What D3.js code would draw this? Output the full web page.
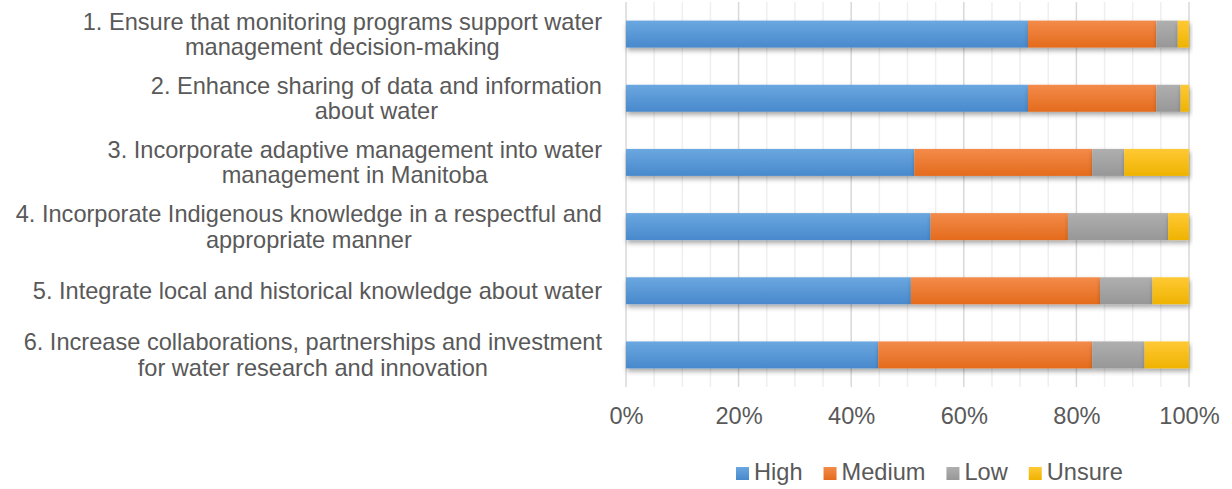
<!DOCTYPE html>
<html>
<head>
<meta charset="utf-8">
<script src="https://cdn.jsdelivr.net/npm/d3@7"></script>
<style>
  body { margin: 0; background: #fff; }
  text { font-family: "Liberation Sans", Arial, sans-serif; fill: #595959; }
</style>
</head>
<body>
<div id="chart"></div>
<script>
var width = 1232;
var height = 489;

// survey items, top to bottom (each label split into its lines)
var categories = [
  ["1. Ensure that monitoring programs support water", "management decision-making"],
  ["2. Enhance sharing of data and information", "about water"],
  ["3. Incorporate adaptive management into water", "management in Manitoba"],
  ["4. Incorporate Indigenous knowledge in a respectful and", "appropriate manner"],
  ["5. Integrate local and historical knowledge about water"],
  ["6. Increase collaborations, partnerships and investment", "for water research and innovation"]
];
var seriesNames = ["High", "Medium", "Low", "Unsure"];
// percent of responses
var high   = [71.4, 71.4, 51.2, 54.1, 50.6, 44.8];
var medium = [22.8, 22.8, 31.6, 24.4, 33.6, 38.0];
var low    = [3.8, 4.3, 5.7, 17.8, 9.3, 9.3];
var unsure = [2.0, 1.5, 11.5, 3.7, 6.5, 7.9];
var tickValues = [0, 0.2, 0.4, 0.6, 0.8, 1];

var colors = {
  High:   ["#6ba7e0", "#4889cc"],
  Medium: ["#f38b4a", "#e46b1c"],
  Low:    ["#afafaf", "#979797"],
  Unsure: ["#ffc935", "#efb300"]
};
var fontSize = '23.6px';

var rows = categories.map(function(c, i) {
  return { id: i, label: c, High: high[i], Medium: medium[i], Low: low[i], Unsure: unsure[i] };
});
var stacked = d3.stack().keys(seriesNames).offset(d3.stackOffsetExpand)(rows);

var svg = d3.select('#chart').append('svg')
    .attr('width', width)
    .attr('height', height);

var defs = svg.append('defs');
seriesNames.forEach(function(k) {
  var g = defs.append('linearGradient')
      .attr('id', 'grad' + k)
      .attr('x1', 0).attr('y1', 0).attr('x2', 0).attr('y2', 1);
  g.append('stop').attr('offset', '0%').attr('stop-color', colors[k][0]);
  g.append('stop').attr('offset', '100%').attr('stop-color', colors[k][1]);
});
var shadow = defs.append('filter').attr('id', 'shadow')
    .attr('x', '-5%').attr('y', '-30%').attr('width', '110%').attr('height', '180%');
shadow.append('feDropShadow')
    .attr('dx', 1).attr('dy', 3).attr('stdDeviation', 2.5)
    .attr('flood-color', '#000').attr('flood-opacity', 0.35);

var x = d3.scaleLinear().domain([0, 1]).range([626, 1189]);
var y = d3.scaleBand()
    .domain(rows.map(function(d) { return d.id; }))
    .range([2, 387])
    .paddingInner(0.58)
    .paddingOuter(0.29);

// gridlines every 5%, darker every 20%
svg.append('g').selectAll('line')
    .data(d3.range(0, 1.0001, 0.05))
    .enter().append('line')
    .attr('x1', function(d) { return x(d); })
    .attr('x2', function(d) { return x(d); })
    .attr('y1', 2).attr('y2', 387)
    .attr('stroke', function(d, i) { return i % 4 == 0 ? '#d9d9d9' : '#efefef'; })
    .attr('stroke-width', 1.5);

// bars
svg.append('g').selectAll('g')
    .data(stacked)
    .enter().append('g')
    .attr('fill', function(d) { return 'url(#grad' + d.key + ')'; })
    .attr('filter', 'url(#shadow)')
    .selectAll('rect')
    .data(function(d) { return d; })
    .enter().append('rect')
    .attr('x', function(d) { return x(d[0]); })
    .attr('width', function(d) { return x(d[1]) - x(d[0]); })
    .attr('y', function(d) { return y(d.data.id); })
    .attr('height', y.bandwidth());

// category labels
var lineH = 25.5;
var labels = svg.append('g').selectAll('text')
    .data(rows)
    .enter().append('text')
    .attr('text-anchor', 'middle')
    .style('font-size', fontSize)
    .each(function(d) {
      var t = d3.select(this);
      var cy = y(d.id) + y.bandwidth() / 2;
      var n = d.label.length;
      d.label.forEach(function(line, j) {
        t.append('tspan')
          .attr('x', 0)
          .attr('y', cy + (j - (n - 1) / 2) * lineH)
          .attr('dy', '0.35em')
          .text(line);
      });
    });

// center each line under the widest line, right aligned next to the axis
labels.each(function(d) {
  var spans = d3.select(this).selectAll('tspan').nodes();
  var maxW = d3.max(spans, function(s) { return s.getComputedTextLength(); });
  d3.select(this).selectAll('tspan').attr('x', 602 - maxW / 2);
});

// x axis
var xAxis = svg.append('g')
    .attr('transform', 'translate(0,' + 387 + ')')
    .call(d3.axisBottom(x).tickValues(tickValues).tickFormat(d3.format('.0%')).tickSize(0));
xAxis.select('.domain').remove();
xAxis.selectAll('text')
    .attr('dy', null)
    .attr('y', 37)
    .style('font-size', fontSize)
    .style('font-family', '"Liberation Sans", Arial, sans-serif')
    .attr('fill', '#595959');

// legend
var legend = svg.append('g');
var lx = 736;
seriesNames.forEach(function(k) {
  legend.append('rect')
    .attr('x', lx).attr('y', 467)
    .attr('width', 13).attr('height', 13)
    .attr('fill', 'url(#grad' + k + ')');
  var t = legend.append('text')
    .attr('x', lx + 18).attr('y', 480)
    .style('font-size', fontSize)
    .text(k);
  lx += 18 + t.node().getComputedTextLength() + 21;
});
</script>
</body>
</html>
